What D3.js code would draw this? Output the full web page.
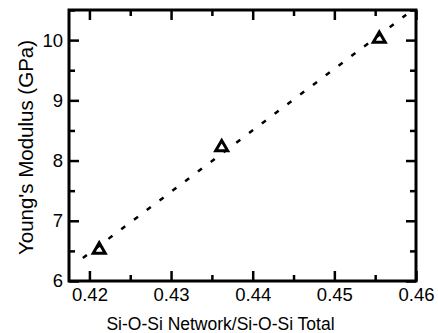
<!DOCTYPE html>
<html>
<head>
<meta charset="utf-8">
<script src="https://cdn.jsdelivr.net/npm/d3@7"></script>
<style>
  body { margin: 0; background: #fff; }
  text { font-family: "Liberation Sans", Arial, sans-serif; fill: #000; }
</style>
</head>
<body>
<div id="chart"></div>
<script>
// measured points
const ratio = [0.4212, 0.4362, 0.4555];
const modulus = [6.52, 8.22, 10.02];
// linear fit (dashed), endpoints
const fitX = [0.4192, 0.4588];
const fitY = [6.38, 10.42];
const xTicks = [0.42, 0.43, 0.44, 0.45, 0.46];
const yTicks = [6, 7, 8, 9, 10];

let width = 438, height = 333;
let margin = { top: 10, right: 22, bottom: 52, left: 69 };
let w = width - margin.left - margin.right;
let h = height - margin.top - margin.bottom;

let svg = d3.select("#chart")
    .append("svg")
    .attr("width", width)
    .attr("height", height)
    .append("g")
    .attr("transform", "translate(" + margin.left + "," + margin.top + ")");

let x = d3.scaleLinear().domain([0.4175, 0.46]).range([0, w]);
let y = d3.scaleLinear().domain([6, 10.5]).range([h, 0]);

let minorX = d3.range(0.425, 0.46, 0.01);
let minorY = d3.range(6.5, 10.6, 1);

// axes with inward ticks, all four sides
function styleAxis(g) {
    g.select(".domain").remove();
    g.selectAll(".tick line").attr("stroke", "#000").attr("stroke-width", 2.5);
}
svg.append("g").attr("transform", "translate(0," + h + ")")
    .call(d3.axisBottom(x).tickValues(xTicks).tickSize(-10).tickFormat(d3.format(".2f")))
    .call(styleAxis)
    .selectAll("text").style("font-size", "18.5px").attr("y", 7);
svg.append("g").attr("transform", "translate(0," + h + ")")
    .call(d3.axisBottom(x).tickValues(minorX).tickSize(-6).tickFormat(""))
    .call(styleAxis);
svg.append("g")
    .call(d3.axisTop(x).tickValues(xTicks).tickSize(-10).tickFormat(""))
    .call(styleAxis);
svg.append("g")
    .call(d3.axisTop(x).tickValues(minorX).tickSize(-6).tickFormat(""))
    .call(styleAxis);
svg.append("g")
    .call(d3.axisLeft(y).tickValues(yTicks).tickSize(-10).tickFormat(d3.format("d")))
    .call(styleAxis)
    .selectAll("text").style("font-size", "18.5px").attr("x", -6);
svg.append("g")
    .call(d3.axisLeft(y).tickValues(minorY).tickSize(-6).tickFormat(""))
    .call(styleAxis);
svg.append("g").attr("transform", "translate(" + w + ",0)")
    .call(d3.axisRight(y).tickValues(yTicks).tickSize(-10).tickFormat(""))
    .call(styleAxis);
svg.append("g").attr("transform", "translate(" + w + ",0)")
    .call(d3.axisRight(y).tickValues(minorY).tickSize(-6).tickFormat(""))
    .call(styleAxis);

// frame
svg.append("rect")
    .attr("width", w).attr("height", h)
    .attr("fill", "none").attr("stroke", "#000").attr("stroke-width", 3);

// dashed fit line
svg.append("path")
    .datum(d3.zip(fitX, fitY))
    .attr("fill", "none")
    .attr("stroke", "#000")
    .attr("stroke-width", 2.5)
    .attr("stroke-dasharray", "5,11")
    .attr("d", d3.line().x(d => x(d[0])).y(d => y(d[1])));

// triangles
svg.selectAll(".pt")
    .data(d3.zip(ratio, modulus))
    .enter()
    .append("path")
    .attr("class", "pt")
    .attr("transform", d => "translate(" + x(d[0]) + "," + y(d[1]) + ")")
    .attr("d", d3.symbol(d3.symbolTriangle, 62))
    .attr("fill", "none")
    .attr("stroke", "#000")
    .attr("stroke-width", 3)
    .attr("stroke-linejoin", "miter");

// axis titles
svg.append("text")
    .attr("x", 220.5 - margin.left).attr("y", h + 49)
    .attr("text-anchor", "middle")
    .style("font-size", "17.5px")
    .text("Si-O-Si Network/Si-O-Si Total");
svg.append("text")
    .attr("transform", "translate(-36," + (147.5 - margin.top) + ") rotate(-90)")
    .attr("text-anchor", "middle")
    .style("font-size", "20.5px")
    .text("Young's Modulus (GPa)");
</script>
</body>
</html>
